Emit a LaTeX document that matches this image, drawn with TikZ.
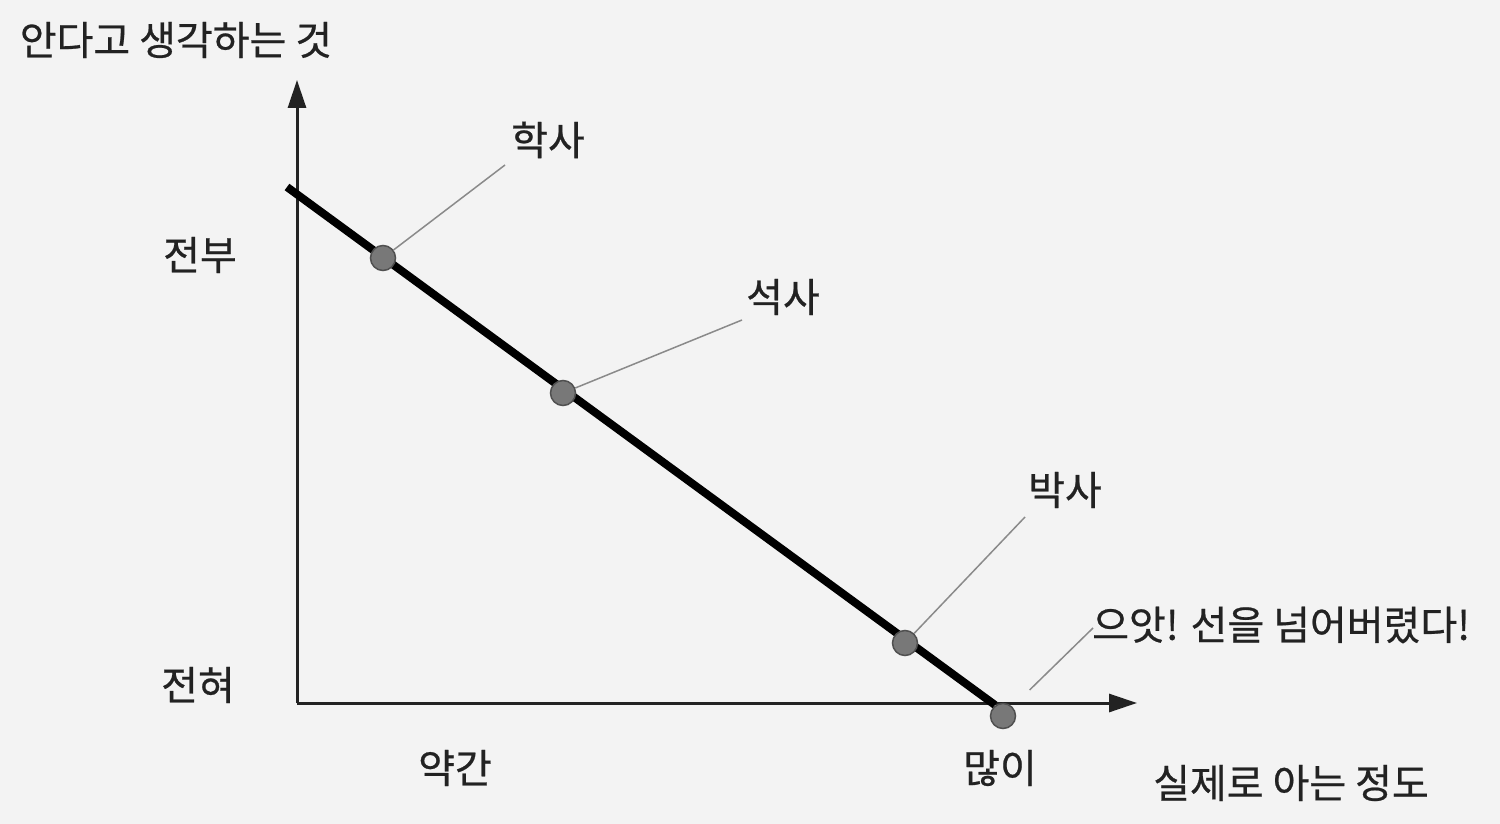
\documentclass[tikz,border=0pt]{standalone}
\usepackage{fontspec}
\setmainfont{Noto Sans CJK KR}[FakeBold=0.6]
\usetikzlibrary{arrows.meta}
\definecolor{bgc}{HTML}{F3F3F3}
\definecolor{dotc}{HTML}{787878}
\definecolor{dotd}{HTML}{505050}
\definecolor{inkc}{HTML}{222222}
\definecolor{leadc}{HTML}{8A8A8A}
\tikzset{
  lbl/.style={inner sep=0pt, text=inkc, font=\fontsize{40}{44}\selectfont},
  axisline/.style={draw=inkc, line width=3pt, -{Triangle[length=28pt,width=18pt]}},
  mainline/.style={draw=black, line width=8pt},
  dotnode/.style={circle, fill=dotc, draw=dotd, line width=1.5pt, minimum size=25pt, inner sep=0pt},
  leader/.style={draw=leadc, line width=1.5pt}
}
\begin{document}
\begin{tikzpicture}[x=1pt,y=-1pt]
\fill[bgc] (0,0) rectangle (1500,824);
\useasboundingbox (0,0) rectangle (1500,824);
% axes
\coordinate (O) at (297,703);
\coordinate (ytop) at (297,80);
\coordinate (xend) at (1137,703);
\draw[axisline] (O) -- (ytop);
\draw[axisline] (O) -- (xend);
% main line
\coordinate (ls) at (287,187);
\coordinate (le) at (995,705);
\draw[mainline] (ls) -- (le);
% dots
\node[dotnode] (d1) at (383,258) {};
\node[dotnode] (d2) at (563,393) {};
\node[dotnode] (d3) at (905,643) {};
\node[dotnode] (d4) at (1003,716) {};
% labels
\node[lbl] (title) at (176,40) {안다고 생각하는 것};
\node[lbl] (all) at (200,255) {전부};
\node[lbl] (none) at (198,685) {전혀};
\node[lbl] (little) at (455,768) {약간};
\node[lbl] (much) at (1000,768) {많이};
\node[lbl] (xlab) at (1291,783) {실제로 아는 정도};
\node[lbl] (l1) at (548,140) {학사};
\node[lbl] (l2) at (783,297) {석사};
\node[lbl] (l3) at (1065,490) {박사};
\node[lbl, anchor=west] (l4) at (1092,625) {으앗! 선을 넘어버렸다!};
% leaders
\coordinate (c1) at (505,165);
\coordinate (c2) at (742,320);
\coordinate (c3) at (1025,517);
\coordinate (c4) at (1093,628);
\draw[leader] (d1) -- (c1);
\draw[leader] (d2) -- (c2);
\draw[leader] (d3) -- (c3);
\draw[leader, shorten <=24pt] (d4) -- (c4);
\end{tikzpicture}
\end{document}
